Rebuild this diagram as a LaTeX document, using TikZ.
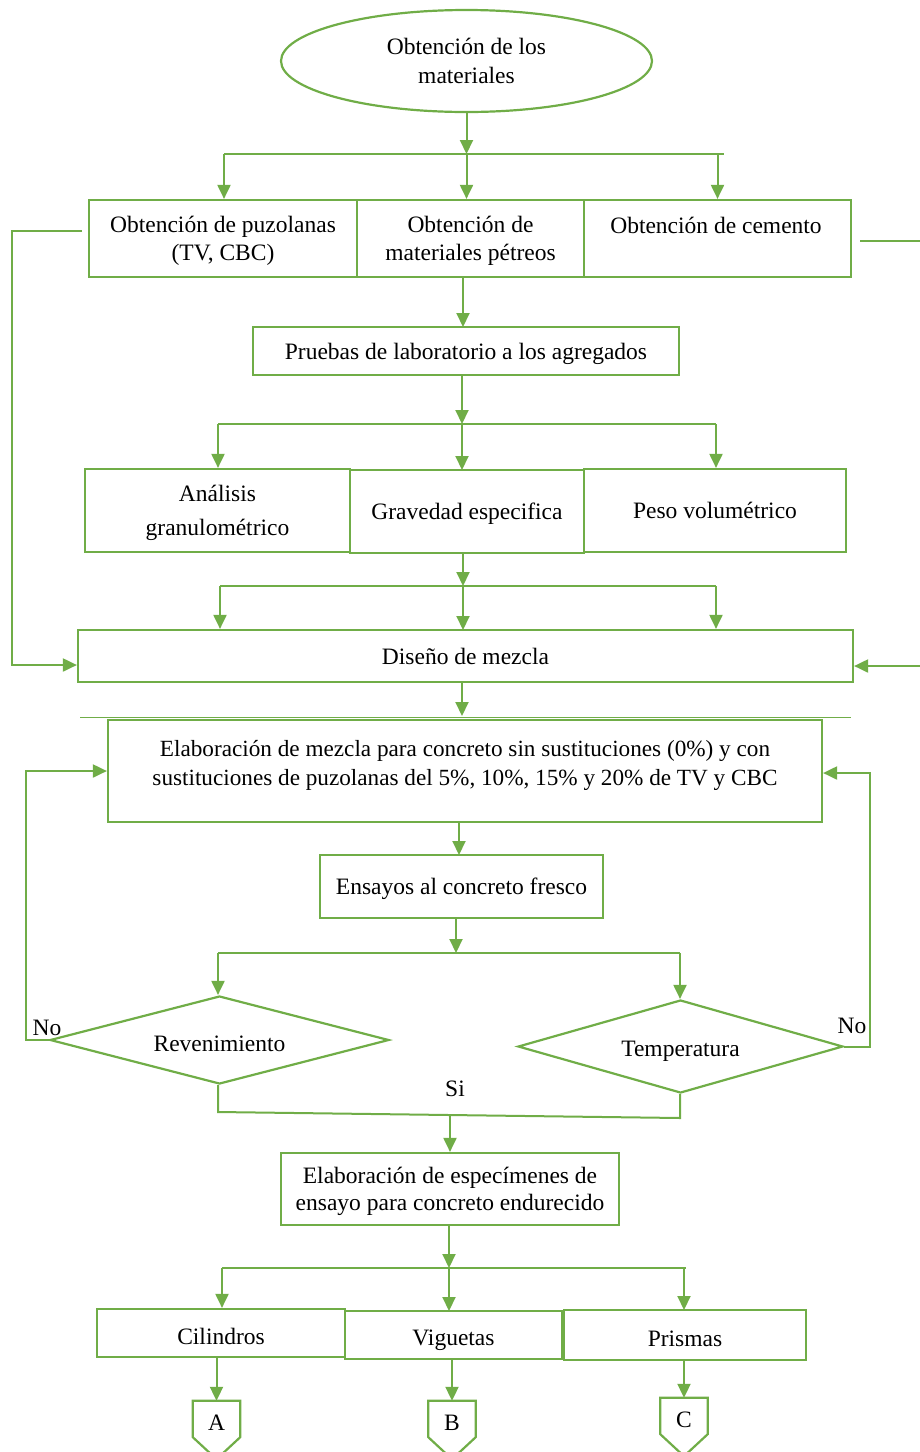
\documentclass[tikz,border=0pt]{standalone}
\usepackage{fontspec}
\setmainfont{Liberation Serif}
\usetikzlibrary{arrows.meta,shapes.geometric,calc}
\definecolor{gr}{HTML}{70AD47}
\begin{document}
\begin{tikzpicture}[x=1pt,y=-1pt,
  txt/.style={font=\fontsize{23.5}{28.5}\selectfont, align=center, inner sep=0pt, text depth=0pt},
  box/.style={txt, draw=gr, line width=2.2pt, rectangle},
  dia/.style={txt, draw=gr, line width=2.2pt, diamond, aspect=3.8},
  line/.style={draw=gr, line width=2pt},
  arr/.style={line, -{Triangle[length=14pt,width=13pt]}},
  off/.style={txt, minimum width=47pt, minimum height=36pt, text height=23pt}]
\useasboundingbox (0,0) rectangle (920,1452);

% top ellipse
\node[txt, draw=gr, line width=2.2pt, ellipse, minimum width=371pt, minimum height=102pt] (E) at (466.5,61) {Obtención de los\\materiales};

% row 1
\node[box, minimum width=268pt, minimum height=77pt] (B1) at (223,238.5) {Obtención de puzolanas\\(TV, CBC)};
\node[box, minimum width=227pt, minimum height=77pt] (B2) at (470.5,238.5) {Obtención de\\materiales pétreos};
\node[box, minimum width=267pt, minimum height=77pt] (B3) at (717.5,238.5) {};
\node[txt] (B3t) at (716,225) {Obtención de cemento};

\coordinate (s1L) at (224,154);
\coordinate (s1R) at (724,154);
\draw[line] (s1L) -- (s1R);
\draw[arr] (E.south) -- (E.south |- s1L);
\draw[arr] (E.south |- s1L) -- (E.south |- B2.north);
\draw[arr] (s1L) -- (s1L |- B1.north);
\draw[arr] (B3.north |- s1L) -- (B3.north);

% pruebas
\node[box, minimum width=426pt, minimum height=48pt] (P) at (466,351) {Pruebas de laboratorio a los agregados};
\draw[arr] (463,277) -- (463,327);

% row 2
\coordinate (s2L) at (218,424);
\coordinate (s2R) at (716,424);
\draw[line] (s2L) -- (s2R);
\draw[arr] (462,375) -- (462,424);
\node[box, minimum width=265pt, minimum height=83pt] (An) at (217.5,510.5) {Análisis\\[6pt]granulométrico};
\node[box, minimum width=234pt, minimum height=83pt] (Gr) at (467,511.5) {Gravedad especifica};
\node[box, minimum width=262pt, minimum height=83pt] (Pe) at (715,510.5) {Peso volumétrico};
\draw[arr] (s2L) -- (s2L |- An.north);
\draw[arr] (462,424) -- (462,470);
\draw[arr] (s2R) -- (s2R |- Pe.north);

% diseño
\coordinate (s3L) at (220,586);
\coordinate (s3R) at (716,586);
\draw[line] (s3L) -- (s3R);
\draw[arr] (463,553) -- (463,586);
\node[box, minimum width=775pt, minimum height=52pt] (D) at (465.5,656) {Diseño de mezcla};
\draw[arr] (s3L) -- (s3L |- D.north);
\draw[arr] (463,586) -- (463,630);
\draw[arr] (s3R) -- (s3R |- D.north);

% side feedback from row 1
\coordinate (fl) at (12,231);
\draw[arr] (82,231) -- (fl) |- ($(D.west)+(0,9)$);
\coordinate (fr) at (920,241);
\draw[line] (860,241) -- (fr);
\draw[arr] (920,666) -- ($(D.east)+(0,10)$);

% elaboracion
\draw[arr] (462,682) -- (462,716);
\draw[draw=gr, line width=1pt] (80,717.5) -- (851,717.5);
\node[box, minimum width=714pt, minimum height=102pt] (El) at (465,771) {};
\node[txt, font=\fontsize{23.2}{29}\selectfont] (Elt) at (465,762.5) {Elaboración de mezcla para concreto sin sustituciones (0\%) y con\\sustituciones de puzolanas del 5\%, 10\%, 15\% y 20\% de TV y CBC};

% ensayos
\node[box, minimum width=283pt, minimum height=63pt] (En) at (461.5,886.5) {Ensayos al concreto fresco};
\draw[arr] (459,822) -- (459,855);

\coordinate (s4L) at (218,953);
\coordinate (s4R) at (680,953);
\draw[line] (s4L) -- (s4R);
\draw[arr] (456,918) -- (456,953);

% diamonds
\node[dia, minimum width=339pt, minimum height=88pt, text height=22pt] (R) at (219.5,1040) {Revenimiento};
\node[dia, minimum width=325pt, minimum height=93pt, text height=20pt] (T) at (680.5,1046.5) {Temperatura};
\draw[arr] (s4L) -- (s4L |- R.north);
\draw[arr] (s4R) -- (s4R |- T.north);

\draw[arr] (R.west) -- ++(-23,0) |- ($(El.west)+(0,0)$);
\draw[arr] (T.east) -- ++(26,0) |- ($(El.east)+(0,2)$);
\node[txt] (no1) at (47,1028) {No};
\node[txt] (no2) at (852,1026) {No};

\coordinate (m1) at (218,1112);
\coordinate (m2) at (680,1118);
\draw[line] (R.south -| m1) -- (m1) -- (m2) -- (T.south -| m2);
\node[txt] (si) at (455,1089) {Si};

% especimenes
\node[box, minimum width=338pt, minimum height=72pt, font=\fontsize{23.5}{26.5}\selectfont] (Es) at (450,1189) {Elaboración de especímenes de\\ensayo para concreto endurecido};
\draw[arr] (450,1115) -- (Es.north);

\coordinate (s5L) at (222,1268);
\coordinate (s5R) at (686,1268);
\draw[line] (s5L) -- (s5R);
\draw[arr] (449,1225) -- (449,1268);

% row 3
\node[box, minimum width=248pt, minimum height=48pt, text height=22pt] (Ci) at (221,1333) {Cilindros};
\node[box, minimum width=217pt, minimum height=48pt, text height=21pt] (Vi) at (453.5,1335) {Viguetas};
\node[box, minimum width=242pt, minimum height=50pt, text height=22pt] (Pr) at (685,1335) {Prismas};
\draw[arr] (s5L) -- (s5L |- Ci.north);
\draw[arr] (449,1268) -- (449,1311);
\draw[arr] (684,1268) -- (684,1310);

% off-page connectors
\node[off] (A) at (216.5,1419) {A};
\node[off] (B) at (452,1419) {B};
\node[off] (C) at (684,1416) {C};
\foreach \n in {A,B,C}{
  \draw[line, line width=2.2pt] (\n.south west) -- (\n.north west) -- (\n.north east) -- (\n.south east) -- ($(\n.south)+(0,22)$) -- cycle;
}
\draw[arr] (A.north |- Ci.south) -- (A.north);
\draw[arr] (B.north |- Vi.south) -- (B.north);
\draw[arr] (C.north |- Pr.south) -- (C.north);
\end{tikzpicture}
\end{document}
